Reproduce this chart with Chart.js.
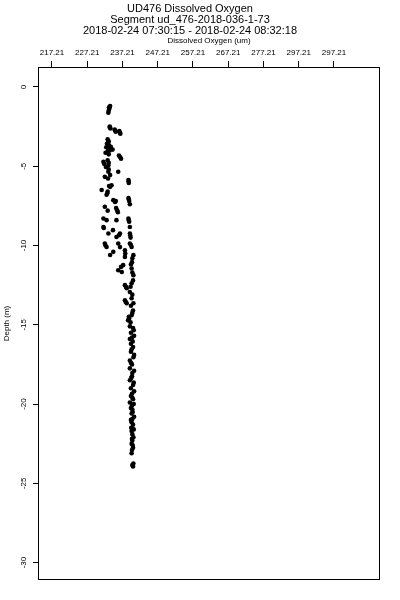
<!DOCTYPE html>
<html>
<head>
<meta charset="utf-8">
<script src="https://cdn.jsdelivr.net/npm/chart.js@4/dist/chart.umd.min.js"></script>
<style>
  html, body { margin: 0; padding: 0; background: #ffffff; }
  #wrap { width: 400px; height: 600px; position: relative; }
</style>
</head>
<body>
<div id="wrap"><canvas id="c"></canvas></div>
<script>
// ---- data ----
const titleLines = [
  "UD476 Dissolved Oxygen",
  "Segment ud_476-2018-036-1-73",
  "2018-02-24 07:30:15 - 2018-02-24 08:32:18"
];
const xAxisTitle = "Dissolved Oxygen (um)";
const yAxisTitle = "Depth (m)";

const xTickValues = [217.21, 227.21, 237.21, 247.21, 257.21, 267.21, 277.21, 287.21, 297.21];
const xTickLabels = ["217.21", "227.21", "237.21", "247.21", "257.21", "267.21", "277.21", "297.21", "297.21"];
const yTickValues = [0, -5, -10, -15, -20, -25, -30];
const yTickLabels = ["0", "-5", "-10", "-15", "-20", "-25", "-30"];

const xRange = [213.24, 310.26];
const yRange = [-31.1, 1.26];

const oxygen = [
  233.7, 233.5, 233.3, 233.2, 233.6, 233.8, 235.0, 235.3, 236.3, 236.6,
  233.0, 233.3, 232.8, 233.4, 232.6, 233.2, 233.9, 234.4, 233.0, 232.4,
  233.3, 236.2, 236.5, 236.8, 231.8, 233.0, 233.2, 232.5, 233.2, 236.0,
  232.2, 233.1, 233.7, 238.9, 239.0, 234.1, 233.7, 231.3, 233.0, 232.7,
  234.6, 235.1, 238.9, 239.1, 239.3, 232.2, 235.4, 235.9, 233.0, 231.8,
  232.7, 235.5, 238.9, 239.1, 231.8, 233.2, 235.5, 236.5, 239.3, 239.3,
  239.5, 234.5, 232.2, 232.7, 236.0, 236.5, 239.3, 239.8, 233.7, 234.6,
  237.9, 237.9, 240.3, 239.9, 237.4, 236.0, 237.0, 239.8, 240.3, 240.2,
  237.9, 238.4, 239.8, 239.3, 237.9, 238.4, 239.8, 240.3, 240.2, 239.8,
  239.1, 238.8, 239.3, 240.2, 239.6, 240.5, 239.3, 239.6, 240.2, 239.6,
  240.5, 239.3, 239.9, 239.3, 240.5, 239.9, 239.3, 240.2, 239.6, 240.5,
  239.6, 240.2, 239.3, 239.9, 239.8, 240.5, 239.6, 240.2, 239.8, 240.3,
  239.8, 240.2, 239.8, 240.3, 240.2, 240.0, 239.7, 240.0, 240.0,
  240.0, 239.5, 240.4, 239.9, 240.1, 239.8, 240.3, 239.6, 240.0, 239.7,
  240.4, 239.9, 240.0, 240.4, 239.6, 240.1, 240.0, 239.8, 240.4, 239.9,
  240.1, 239.9, 240.0,
  238.0, 240.0, 236.8, 239.6, 240.0, 238.2, 239.5, 240.0, 238.1, 239.6,
  239.0,
  233.4, 233.6, 235.1, 236.5, 233.1, 233.6, 233.3, 232.0, 233.3, 238.95,
  233.4, 232.9, 239.0, 235.3, 235.7, 239.0, 231.9, 239.4, 236.2, 232.4,
  239.6
];
const depth = [
  -1.20, -1.35, -1.50, -1.62, -2.50, -2.62, -2.68, -2.82, -2.78, -2.95,
  -3.30, -3.42, -3.58, -3.68, -3.80, -3.92, -3.78, -3.95, -4.08, -4.15,
  -4.25, -4.32, -4.42, -4.52, -4.72, -4.62, -4.93, -5.05, -5.35, -5.35,
  -5.67, -5.77, -5.56, -5.87, -6.05, -6.20, -6.30, -6.50, -6.60, -6.80,
  -7.14, -7.26, -7.00, -7.20, -7.40, -7.56, -7.64, -7.90, -7.80, -8.30,
  -8.40, -8.40, -8.30, -8.50, -8.83, -9.24, -9.46, -9.24, -8.83, -9.24,
  -9.50, -9.03, -9.87, -10.09, -9.87, -10.10, -9.87, -10.09, -10.60, -10.40,
  -10.30, -10.72, -10.61, -11.05, -11.24, -11.56, -11.67, -11.45, -11.87, -12.20,
  -12.50, -12.70, -12.38, -12.93, -13.46, -13.64, -13.33, -13.64, -14.10, -14.40,
  -14.60, -14.72, -15.10, -15.20, -15.50, -15.70, -15.90, -16.20, -16.40, -16.70,
  -16.90, -17.25, -17.50, -17.75, -17.90, -18.25, -18.50, -18.80, -19.00, -19.20,
  -19.50, -19.70, -19.90, -20.10, -20.60, -20.80, -21.00, -21.30, -21.70, -22.10,
  -22.50, -22.75, -23.10, -23.75, -23.94, -20.35, -21.50, -21.90, -22.30,
  -14.25, -14.85, -15.35, -15.80, -16.05, -16.55, -17.05, -17.40, -18.05, -18.35,
  -18.65, -19.35, -19.60, -20.00, -20.25, -20.50, -20.95, -21.15, -21.60, -22.20,
  -22.60, -22.90, -23.85,
  -10.50, -10.80, -11.35, -11.20, -11.70, -12.60, -12.60, -13.10, -13.55, -13.80,
  -14.50,
  -1.28, -2.55, -2.75, -2.88, -3.50, -4.00, -4.78, -4.85, -5.20, -5.95,
  -6.25, -6.70, -7.10, -7.20, -7.78, -8.40, -8.90, -9.35, -9.35, -10.00,
  -9.97
];

// ---- chart ----
const FONT = "'Liberation Sans', Arial, Helvetica, sans-serif";
const points = oxygen.map((v, i) => ({ x: v, y: depth[i] }));

const frame = {
  id: 'frame',
  afterDatasetsDraw(chart) {
    const a = chart.chartArea, ctx = chart.ctx;
    ctx.save();
    ctx.strokeStyle = '#000';
    ctx.lineWidth = 1;
    ctx.strokeRect(Math.round(a.left) + 0.5, Math.round(a.top) + 0.5,
                   Math.round(a.right - a.left) - 1, Math.round(a.bottom - a.top) - 1);
    ctx.restore();
  }
};

new Chart(document.getElementById('c'), {
  type: 'scatter',
  data: {
    datasets: [{
      data: points,
      backgroundColor: '#000',
      borderWidth: 0,
      pointRadius: 2.3,
      pointHoverRadius: 2.3,
      pointStyle: 'circle'
    }]
  },
  plugins: [frame],
  options: {
    responsive: true,
    maintainAspectRatio: false,
    animation: false,
    devicePixelRatio: 1,
    layout: { padding: { left: 0, right: 20, top: 0, bottom: 20 } },
    plugins: {
      legend: { display: false },
      tooltip: { enabled: false },
      title: {
        display: true,
        text: titleLines,
        color: '#000',
        font: { family: FONT, size: 11, weight: 'normal', lineHeight: '11px' },
        padding: { top: 3, bottom: 0 }
      }
    },
    scales: {
      x: {
        type: 'linear',
        position: 'top',
        min: xRange[0],
        max: xRange[1],
        afterBuildTicks: s => { s.ticks = xTickValues.map(v => ({ value: v })); },
        afterFit: s => { s.height = 31; },
        ticks: {
          color: '#000',
          font: { family: FONT, size: 8 },
          padding: 3,
          maxRotation: 0,
          minRotation: 0,
          autoSkip: false,
          callback: (v, i) => xTickLabels[i]
        },
        grid: { display: true, drawOnChartArea: false, drawTicks: true, tickLength: 6, color: '#000', lineWidth: 1 },
        border: { display: false },
        title: {
          display: true,
          text: xAxisTitle,
          color: '#000',
          font: { family: FONT, size: 8, lineHeight: 1 },
          padding: { top: 1, bottom: 0 }
        }
      },
      y: {
        type: 'linear',
        position: 'left',
        min: yRange[0],
        max: yRange[1],
        afterBuildTicks: s => { s.ticks = yTickValues.map(v => ({ value: v })); },
        afterFit: s => { s.width = 38; },
        ticks: {
          color: '#000',
          font: { family: FONT, size: 8 },
          padding: 3,
          minRotation: 90,
          maxRotation: 90,
          crossAlign: 'center',
          autoSkip: false,
          callback: (v, i) => yTickLabels[i]
        },
        grid: { display: true, drawOnChartArea: false, drawTicks: true, tickLength: 5, color: '#000', lineWidth: 1 },
        border: { display: false },
        title: {
          display: true,
          text: yAxisTitle,
          color: '#000',
          font: { family: FONT, size: 8, lineHeight: 1 },
          padding: { top: 3, bottom: 0 }
        }
      }
    }
  }
});
</script>
</body>
</html>
